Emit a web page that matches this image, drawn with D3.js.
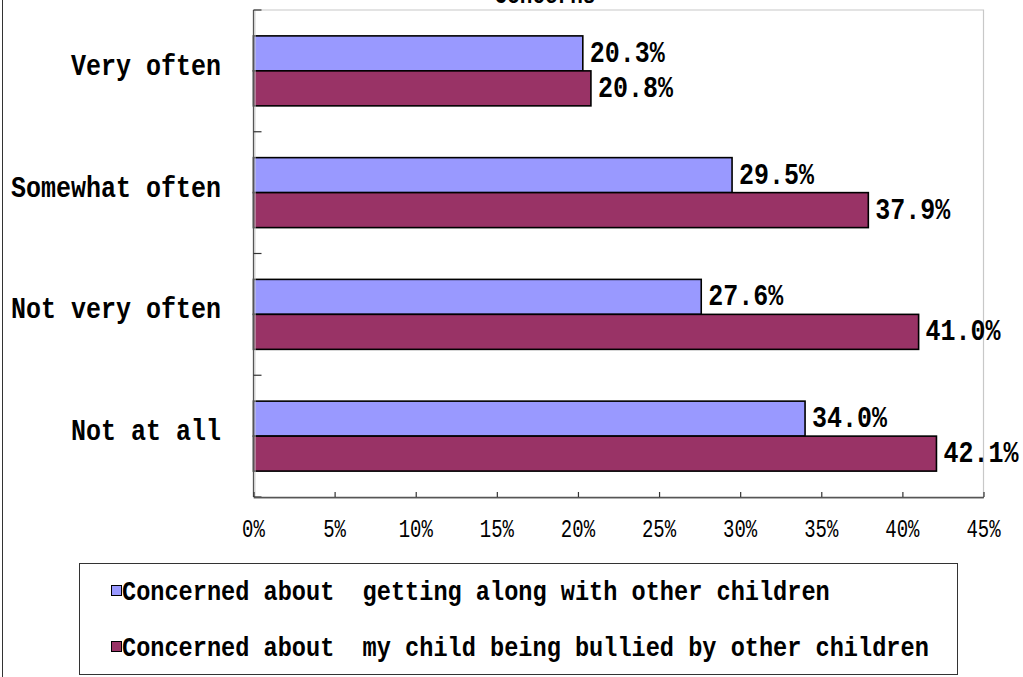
<!DOCTYPE html>
<html>
<head>
<meta charset="utf-8">
<script src="https://cdn.jsdelivr.net/npm/d3@7"></script>
<style>
  html, body { margin: 0; padding: 0; background: #fff; }
  svg { display: block; }
  text { font-family: "Liberation Mono", "DejaVu Sans Mono", monospace; fill: #000; white-space: pre; }
</style>
</head>
<body>
<svg id="chart" width="1023" height="677" xml:space="preserve"></svg>
<script>
// Survey answers (percent) for two kinds of concern
const categories = ["Very often", "Somewhat often", "Not very often", "Not at all"];
const seriesNames = [
  "Concerned about  getting along with other children",
  "Concerned about  my child being bullied by other children"
];
const gettingAlong = [20.3, 29.5, 27.6, 34.0];
const bullied = [20.8, 37.9, 41.0, 42.1];
const xTicks = [0, 5, 10, 15, 20, 25, 30, 35, 40, 45];
const seriesColors = ["#9999FF", "#993366"];
const titleText = "Concerns";

const series = [gettingAlong, bullied];

const svg = d3.select("#chart");
const plot = { left: 253.5, right: 983.5, top: 10, bottom: 497 };

const x = d3.scaleLinear().domain([0, 45]).range([plot.left, plot.right]);
const y = d3.scaleBand().domain(categories).range([plot.top, plot.bottom]).paddingInner(0).paddingOuter(0);
const ySub = d3.scaleBand().domain(d3.range(series.length)).range([0, y.bandwidth()])
  .paddingInner(0).paddingOuter(0.74);

// stretched monospace text helper
function label(g, tx, ty, str, opts) {
  return g.append("text")
    .attr("transform", `translate(${tx},${ty}) scale(1,${opts.sy || 1})`)
    .attr("text-anchor", opts.anchor || "start")
    .style("font-size", opts.size + "px")
    .style("font-weight", opts.weight || "normal")
    .text(str);
}

// outer chart border (left edge)
svg.append("line").attr("x1", 2.5).attr("x2", 2.5).attr("y1", 0).attr("y2", 677)
  .attr("stroke", "#333").attr("stroke-width", 1);

// title, mostly clipped by the top edge
label(svg, 545, 3, titleText, { size: 21, weight: "bold", sy: 1.2, anchor: "middle" });

// plot area frame (top/right)
svg.append("path")
  .attr("d", `M${plot.left},${plot.top}H${plot.right}V${plot.bottom}`)
  .attr("fill", "none").attr("stroke", "#c8c8c8").attr("stroke-width", 1.2);

// bars
const gBars = svg.append("g");
series.forEach((vals, si) => {
  gBars.selectAll(null).data(categories).enter().append("rect")
    .attr("x", x(0))
    .attr("y", c => y(c) + ySub(si))
    .attr("width", (c, i) => x(vals[i]) - x(0))
    .attr("height", ySub.bandwidth())
    .attr("fill", seriesColors[si])
    .attr("stroke", "#000").attr("stroke-width", 1.6);
});

// value labels
series.forEach((vals, si) => {
  categories.forEach((c, i) => {
    const cy = y(c) + ySub(si) + ySub.bandwidth() / 2;
    label(svg, x(vals[i]) + 7, cy + 8.5, vals[i].toFixed(1) + "%",
      { size: 25, weight: "bold", sy: 1.2 });
  });
});

// category axis
const boundaries = categories.map(c => y(c)).concat([plot.bottom]);
svg.append("line").attr("x1", plot.left + 1.5).attr("x2", plot.left + 1.5)
  .attr("y1", plot.top).attr("y2", plot.bottom).attr("stroke", "#d0d0d0").attr("stroke-width", 1);
svg.append("line").attr("x1", plot.left).attr("x2", plot.left)
  .attr("y1", plot.top).attr("y2", plot.bottom).attr("stroke", "#555").attr("stroke-width", 1.3);
svg.selectAll(null).data(boundaries).enter().append("line")
  .attr("x1", plot.left).attr("x2", plot.left + 8)
  .attr("y1", d => d).attr("y2", d => d)
  .attr("stroke", "#333").attr("stroke-width", 1.2);

categories.forEach(c => {
  label(svg, 221, y(c) + y.bandwidth() / 2 + 4, c, { size: 25, weight: "bold", sy: 1.2, anchor: "end" });
});

// value axis
svg.append("line").attr("x1", plot.left).attr("x2", plot.right)
  .attr("y1", plot.bottom + 1.5).attr("y2", plot.bottom + 1.5).attr("stroke", "#d0d0d0").attr("stroke-width", 1);
const xAxis = d3.axisBottom(x).tickValues(xTicks).tickSizeInner(-5).tickSizeOuter(0).tickFormat("");
const gx = svg.append("g").attr("transform", `translate(0,${plot.bottom})`).call(xAxis);
gx.select(".domain").attr("stroke", "#555").attr("stroke-width", 1.3);
gx.selectAll(".tick line").attr("stroke", "#333").attr("stroke-width", 1.2);
xTicks.forEach(t => {
  label(svg, x(t), 536.5, t + "%", { size: 19, sy: 1.32, anchor: "middle" });
});

// legend
const legend = svg.append("g");
legend.append("rect").attr("x", 79.5).attr("y", 563.5).attr("width", 878).attr("height", 111)
  .attr("fill", "#fff").attr("stroke", "#333").attr("stroke-width", 1);
const legendRows = [591, 647];
seriesNames.forEach((name, si) => {
  const cy = legendRows[si];
  legend.append("rect").attr("x", 111.5).attr("y", cy - 5.5).attr("width", 10).attr("height", 10)
    .attr("fill", seriesColors[si]).attr("stroke", "#000").attr("stroke-width", 1);
  label(legend, 122, cy + 8.5, name, { size: 23.6, weight: "bold", sy: 1.18 });
});
</script>
</body>
</html>
